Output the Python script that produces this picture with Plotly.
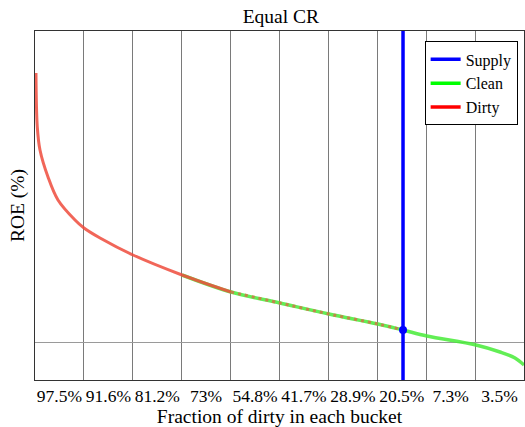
import plotly.graph_objects as go

# Bucket boundaries (fraction of population) and bucket labels
bucket_edges = [0.1, 0.2, 0.3, 0.4, 0.5, 0.6, 0.7, 0.8, 0.9]
bucket_centers = [0.05, 0.15, 0.25, 0.35, 0.45, 0.55, 0.65, 0.75, 0.85, 0.95]
bucket_labels = ["97.5%", "91.6%", "81.2%", "73%", "54.8%", "41.7%", "28.9%", "20.5%", "7.3%", "3.5%"]

# ROE curve (sorted)
curve_x = [0.002, 0.0047, 0.0102, 0.0266, 0.047, 0.0818, 0.1002, 0.133, 0.2004, 0.3006,
           0.4008, 0.501, 0.6012, 0.7014, 0.7526, 0.8016, 0.9018, 0.951, 0.9816, 1.0]
curve_y = [26.9, 21.5, 19.2, 16.5, 14.2, 12.2, 11.4, 10.4, 8.7, 6.7,
           5.0, 3.9, 2.8, 1.8, 1.2, 0.6, -0.3, -1.0, -1.6, -2.3]

# Dirty dominates the left portion, clean the right; they interleave in the middle
dirty_solid_end = 11  # slice end (exclusive) of the dirty-dominant part
dirty_end = 15        # slice end (exclusive) where dirty points stop
clean_start = 9       # index where clean points start

supply_x = 0.7526
supply_y = 1.2
y_range = [-3.8, 31.1]

fig = go.Figure()

# Clean (green) under
fig.add_trace(go.Scatter(
    x=curve_x[clean_start:], y=curve_y[clean_start:], mode="lines",
    line=dict(color="rgba(70,235,55,0.85)", width=3.5, shape="spline"),
    name="Clean", showlegend=False))
# Dirty (red) dominant part
fig.add_trace(go.Scatter(
    x=curve_x[:dirty_solid_end], y=curve_y[:dirty_solid_end], mode="lines",
    line=dict(color="rgba(238,75,60,0.85)", width=3, shape="spline"),
    name="Dirty", showlegend=False))
# Dirty interleaved over clean in the overlap region
fig.add_trace(go.Scatter(
    x=curve_x[dirty_solid_end - 1:dirty_end], y=curve_y[dirty_solid_end - 1:dirty_end], mode="lines",
    line=dict(color="rgba(215,110,70,0.8)", width=3, shape="spline", dash="3px,4px"),
    name="Dirty", showlegend=False))

# Supply vertical line
fig.add_trace(go.Scatter(
    x=[supply_x, supply_x], y=y_range, mode="lines",
    line=dict(color="#0000ff", width=3.5), showlegend=False))
fig.add_trace(go.Scatter(
    x=[supply_x], y=[supply_y], mode="markers",
    marker=dict(color="#0000ff", size=8), showlegend=False))

# Legend entries
for name, col in [("Supply", "#0000ff"), ("Clean", "#00ff00"), ("Dirty", "#ff0000")]:
    fig.add_trace(go.Scatter(x=[None], y=[None], mode="lines",
                             line=dict(color=col, width=3.5), name=name))

font_family = "Liberation Serif"
fig.update_layout(
    width=525, height=427,
    margin=dict(l=35, r=1, t=31, b=47),
    plot_bgcolor="white", paper_bgcolor="white",
    font=dict(family=font_family, size=17, color="black"),
    title=dict(text="Equal CR", x=0.535, xanchor="center", y=0.962, yanchor="middle",
               font=dict(family=font_family, size=19.5, color="black")),
    legend=dict(x=0.987, y=0.97, xanchor="right", yanchor="top",
                bgcolor="white", bordercolor="black", borderwidth=1,
                font=dict(family=font_family, size=16),
                tracegroupgap=0, itemwidth=30),
    showlegend=True,
)
fig.update_xaxes(
    range=[0, 1], tickmode="array", tickvals=bucket_centers, ticktext=bucket_labels,
    showgrid=False, ticks="", zeroline=False,
    showline=True, linecolor="#333", linewidth=1, mirror=True,
    minor=dict(tickmode="array", tickvals=bucket_edges, showgrid=True,
               gridcolor="#7a7a7a", gridwidth=1, ticks=""),
    title=dict(text="Fraction of dirty in each bucket", standoff=2,
               font=dict(family=font_family, size=19.5)),
    tickfont=dict(family=font_family, size=17.5),
)
fig.update_yaxes(
    range=y_range, tickmode="array", tickvals=[0], showticklabels=False,
    showgrid=True, gridcolor="#9a9a9a", gridwidth=1, zeroline=False, ticks="",
    showline=True, linecolor="#333", linewidth=1, mirror=True,
    title=dict(text="ROE (%)", standoff=4, font=dict(family=font_family, size=19.5)),
)

fig.write_html("out.html")
